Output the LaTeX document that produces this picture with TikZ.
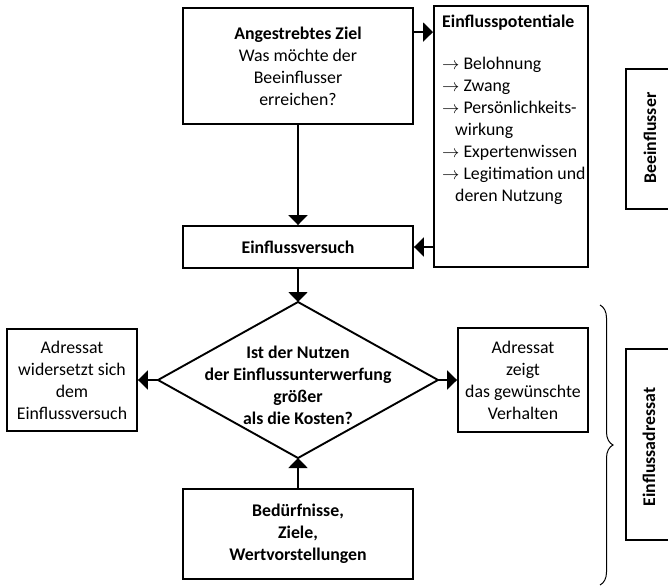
\documentclass[tikz,border=0pt]{standalone}
\usepackage{fontspec}
\setmainfont{Carlito}
\usetikzlibrary{arrows.meta,decorations.pathreplacing,calc}
\begin{document}
\begin{tikzpicture}[x=1pt,y=-1pt,
  every node/.style={font=\fontsize{17.8}{22}\selectfont, inner sep=0pt},
  box/.style={draw, line width=1.9pt, align=center},
  arr/.style={line width=1.9pt, -{Triangle[length=10pt,width=19pt]}},
  bold/.style={font=\fontsize{17.8}{22}\selectfont\bfseries},
  ]
\useasboundingbox (0,0) rectangle (668,586);
\fill[white] (0,0) rectangle (668,586);
\clip (0,0) rectangle (668,586);

% top box
\node[box, minimum width=230pt, minimum height=116pt] (ziel) at (298,66)
  {\textbf{Angestrebtes Ziel}\\Was möchte der\\Beeinflusser\\erreichen?};

% Einflusspotentiale
\node[box, minimum width=154pt, minimum height=261pt] (pot) at (511,136.5) {};
\node[anchor=north west, align=left] (pottext) at (442,15)
  {\textbf{Einflusspotentiale}\\[19.8pt]
   $\rightarrow$ Belohnung\\
   $\rightarrow$ Zwang\\
   $\rightarrow$ Persönlichkeits-\\
   \hspace*{13pt}wirkung\\
   $\rightarrow$ Expertenwissen\\
   $\rightarrow$ Legitimation und\\
   \hspace*{13pt}deren Nutzung};

% Einflussversuch
\node[box, minimum width=230pt, minimum height=42pt] (versuch) at (298,247)
  {\textbf{Einflussversuch}};

% diamond
\coordinate (dtop) at (298,302);
\coordinate (dright) at (438,380);
\coordinate (dbottom) at (298,458);
\coordinate (dleft) at (158,380);
\draw[line width=1.9pt, line join=miter] (dtop) -- (dright) -- (dbottom) -- (dleft) -- cycle;
\node[bold, align=center] (frage) at (298,385)
  {Ist der Nutzen\\der Einflussunterwerfung\\größer\\als die Kosten?};

% side boxes
\node[box, minimum width=130pt, minimum height=102pt] (links) at (72,380)
  {Adressat\\widersetzt sich\\dem\\Einflussversuch};
\node[box, minimum width=130pt, minimum height=104pt] (rechts) at (523,380)
  {Adressat\\zeigt\\das gewünschte\\Verhalten};

% bottom box
\node[box, minimum width=230pt, minimum height=90pt] (beduerf) at (298,534)
  {\textbf{Bedürfnisse,}\\\textbf{Ziele,}\\\textbf{Wertvorstellungen}};

% right label boxes
\node[box, minimum width=74pt, minimum height=140pt] (bee) at (663,139) {};
\node[bold, rotate=90] (beetext) at (650,138) {Beeinflusser};
\node[box, minimum width=74pt, minimum height=191pt] (adr) at (663,444.5) {};
\node[bold, rotate=90] (adrtext) at (649,447) {Einflussadressat};

% brace
\coordinate (bt) at (600,305);
\coordinate (bb) at (600,585);
\draw[decorate, decoration={brace, amplitude=13pt}, line width=1pt] (bt) -- (bb);

% arrows
\draw[arr] ([yshift=-25pt]ziel.north east) -- ([yshift=-25pt]ziel.north east -| pot.west);
\draw[arr] (ziel.south) -- (versuch.north);
\draw[arr] (versuch.east -| pot.west) -- (versuch.east);
\draw[arr] (versuch.south) -- (dtop);
\draw[arr] (dleft) -- (links.east);
\draw[arr] (dright) -- (rechts.west);
\draw[arr] (beduerf.north) -- (dbottom);
\end{tikzpicture}
\end{document}
